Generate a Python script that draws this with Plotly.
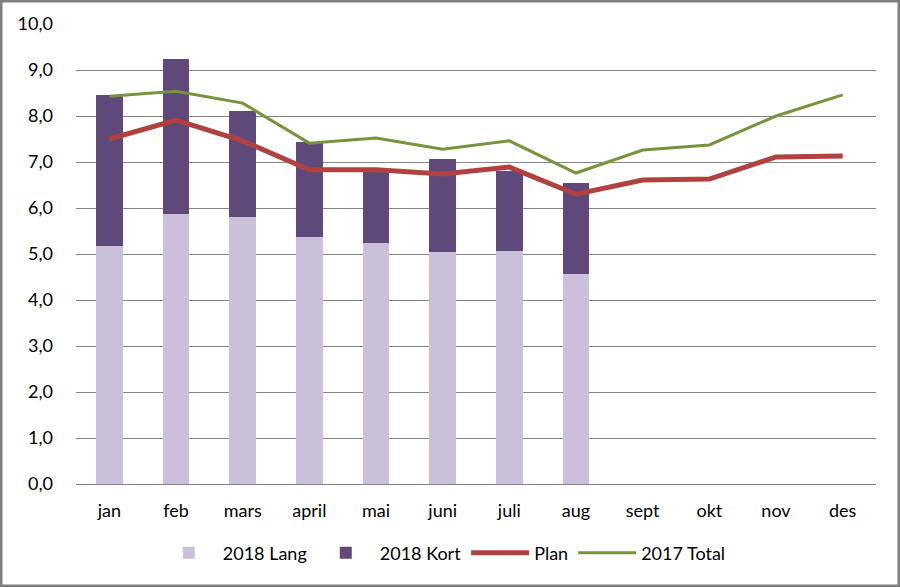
import plotly.graph_objects as go

months = ["jan", "feb", "mars", "april", "mai", "juni", "juli", "aug", "sept", "okt", "nov", "des"]
lang_2018 = [5.17, 5.87, 5.80, 5.37, 5.24, 5.04, 5.07, 4.57]
kort_2018 = [3.29, 3.37, 2.31, 2.06, 1.63, 2.03, 1.73, 1.97]
plan = [7.50, 7.91, 7.46, 6.83, 6.83, 6.74, 6.89, 6.30, 6.61, 6.63, 7.11, 7.13]
total_2017 = [8.43, 8.54, 8.28, 7.41, 7.52, 7.28, 7.46, 6.76, 7.26, 7.37, 8.00, 8.46]
y_ticks = [0, 1, 2, 3, 4, 5, 6, 7, 8, 9, 10]
y_tick_labels = ["0,0", "1,0", "2,0", "3,0", "4,0", "5,0", "6,0", "7,0", "8,0", "9,0", "10,0"]

font_family = "Lato, Open Sans, sans-serif"

fig = go.Figure()
fig.add_trace(go.Bar(x=months[:len(lang_2018)], y=lang_2018, name="2018 Lang",
                     marker=dict(color="#CBC0DA", line=dict(width=0))))
fig.add_trace(go.Bar(x=months[:len(kort_2018)], y=kort_2018, name="2018 Kort",
                     marker=dict(color="#5F497A", line=dict(width=0))))
fig.add_trace(go.Scatter(x=months, y=plan, name="Plan", mode="lines",
                         line=dict(color="#B0413E", width=5)))
fig.add_trace(go.Scatter(x=months, y=total_2017, name="2017 Total", mode="lines",
                         line=dict(color="#77933C", width=3)))

fig.update_layout(
    width=900, height=587,
    barmode="stack", bargap=0.6,
    paper_bgcolor="white", plot_bgcolor="white",
    margin=dict(l=76, r=24, t=24, b=103, autoexpand=False),
    font=dict(family=font_family, size=18, color="#000000"),
    showlegend=True,
    legend=dict(orientation="h", xref="container", x=0.492, xanchor="center",
                y=-0.15, yanchor="middle",
                font=dict(size=18), traceorder="normal", itemwidth=58),
    xaxis=dict(categoryorder="array", categoryarray=months, range=[-0.5, 11.5],
               showgrid=False, showline=False, ticks="", tickfont=dict(size=18),
               ticklabelstandoff=14),
    yaxis=dict(range=[0, 10], tickvals=y_ticks, ticktext=y_tick_labels,
               showgrid=True, gridcolor="#868686", gridwidth=1,
               zeroline=True, zerolinecolor="#868686", zerolinewidth=1,
               showline=False, ticks="", tickfont=dict(size=18),
               ticklabelstandoff=22),
    shapes=[dict(type="rect", xref="paper", yref="paper",
                 x0=-75/800, x1=1 + 23/800, y0=-102/460, y1=1 + 23/460,
                 line=dict(color="#7F7F7F", width=3), fillcolor="rgba(0,0,0,0)")],
)

fig.write_html("out.html", config={"displayModeBar": False},
               post_script="document.body.style.margin='0px';document.body.style.overflow='hidden';")
